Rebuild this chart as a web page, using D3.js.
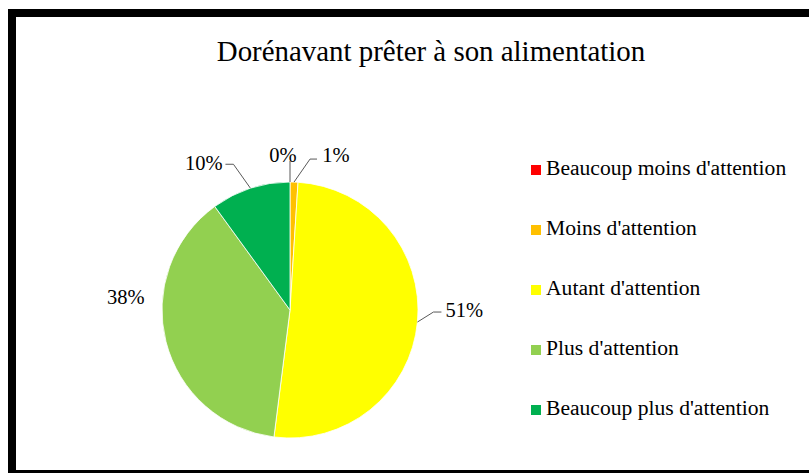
<!DOCTYPE html>
<html>
<head>
<meta charset="utf-8">
<script src="https://cdn.jsdelivr.net/npm/d3@7"></script>
<style>
  html, body { margin: 0; padding: 0; background: #fff; }
  svg { display: block; }
</style>
</head>
<body>
<svg id="chart" width="809" height="473"></svg>
<script>
// Answers, in drawing order (clockwise from 12 o'clock)
const categories = [
  "Beaucoup moins d'attention",
  "Moins d'attention",
  "Autant d'attention",
  "Plus d'attention",
  "Beaucoup plus d'attention"
];
const values = [0, 1, 51, 38, 10];
const colors = ["#FF0000", "#FFC000", "#FFFF00", "#92D050", "#00B050"];
const title = "Dorénavant prêter à son alimentation";

// Label placement per slice: leader elbow and label offsets from the arc anchor
const labelLayout = [
  { elbow: [0, -21], end: [0, -21], tx: -7, ty: -25, anchor: "middle", leader: true },
  { elbow: [16, -23], end: [23, -23], tx: 42, ty: -25, anchor: "middle", leader: true },
  { elbow: [16, -10], end: [24, -10], tx: 28, ty: -10, anchor: "start", leader: true },
  { elbow: [0, 0], end: [0, 0], tx: -59, ty: -43, anchor: "start", leader: false },
  { elbow: [-17, -24], end: [-25, -24], tx: -28, ty: -23, anchor: "end", leader: true }
];

const FONT = "Liberation Serif, DejaVu Serif, serif";
const svg = d3.select("#chart");

// Frame
svg.append("rect")
  .attr("x", 12).attr("y", 13)
  .attr("width", 805).attr("height", 461)
  .attr("fill", "#fff")
  .attr("stroke", "#000")
  .attr("stroke-width", 8);

// Title
svg.append("text")
  .attr("x", 431).attr("y", 61)
  .attr("text-anchor", "middle")
  .style("font-family", FONT)
  .style("font-size", "28.9px")
  .attr("fill", "#000")
  .text(title);

// Pie
const cx = 290, cy = 310, R = 128;
const pie = d3.pie().sort(null).value(d => d.value);
const data = categories.map((c, i) => ({ name: c, value: values[i], color: colors[i], layout: labelLayout[i] }));
const arcs = pie(data);
const arc = d3.arc().innerRadius(0).outerRadius(R);

const g = svg.append("g").attr("transform", `translate(${cx},${cy})`);

g.selectAll("path.slice")
  .data(arcs)
  .join("path")
  .attr("class", "slice")
  .attr("d", arc)
  .attr("fill", d => d.data.color)
  .attr("stroke", "#fff")
  .attr("stroke-width", d => d.data.value > 0 ? 0.8 : 0);

const fmt = v => d3.format("d")(v) + "%";

arcs.forEach(d => {
  const a = (d.startAngle + d.endAngle) / 2;
  const ax = R * Math.sin(a), ay = -R * Math.cos(a);
  const L = d.data.layout;
  if (L.leader) {
    g.append("polyline")
      .attr("points", [[ax, ay], [ax + L.elbow[0], ay + L.elbow[1]], [ax + L.end[0], ay + L.end[1]]].map(p => p.join(",")).join(" "))
      .attr("fill", "none")
      .attr("stroke", "#595959")
      .attr("stroke-width", 1);
  }
  g.append("text")
    .attr("x", ax + L.tx)
    .attr("y", ay + L.ty)
    .attr("text-anchor", L.anchor)
    .attr("dominant-baseline", "middle")
    .style("font-family", FONT)
    .style("font-size", "20.5px")
    .attr("fill", "#000")
    .text(fmt(d.data.value));
});

// Legend
const legend = svg.append("g").attr("transform", "translate(531,170)");
const rowH = 60;
const items = legend.selectAll("g.item")
  .data(data)
  .join("g")
  .attr("class", "item")
  .attr("transform", (d, i) => `translate(0,${i * rowH})`);
items.append("rect")
  .attr("x", 0).attr("y", -5)
  .attr("width", 10).attr("height", 10)
  .attr("fill", d => d.color);
items.append("text")
  .attr("x", 15).attr("y", 0)
  .attr("dominant-baseline", "middle")
  .style("font-family", FONT)
  .style("font-size", "21.6px")
  .attr("fill", "#000")
  .text(d => d.name);
</script>
</body>
</html>
